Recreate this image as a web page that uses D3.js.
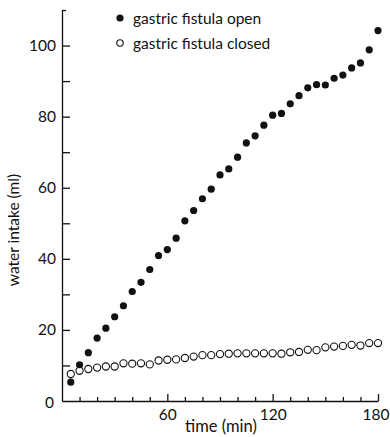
<!DOCTYPE html>
<html>
<head>
<meta charset="utf-8">
<script src="https://cdn.jsdelivr.net/npm/d3@7"></script>
<style>
  body { margin: 0; background: #fff; }
  text { font-family: Lato, "Open Sans", sans-serif; fill: #111; }
</style>
</head>
<body>
<script>
// time points (min), one sample every 5 min
const times = d3.range(5, 181, 5);

// cumulative water intake (ml)
const fistulaOpen = [5.3, 10.2, 13.6, 17.7, 20.5, 23.7, 26.8, 30.8, 33.4, 37.0,
    40.9, 42.6, 45.8, 50.7, 53.6, 56.9, 59.6, 63.6, 65.3, 68.6,
    72.6, 74.6, 77.6, 80.4, 80.9, 83.6, 85.9, 88.1, 89.0, 88.9,
    90.8, 91.7, 93.7, 95.1, 98.8, 104.2];
const fistulaClosed = [7.6, 8.5, 9.0, 9.4, 9.7, 9.7, 10.6, 10.5, 10.6, 10.3,
    11.4, 11.6, 11.7, 12.1, 12.5, 12.9, 12.9, 13.2, 13.3, 13.4,
    13.4, 13.4, 13.4, 13.4, 13.3, 13.7, 13.8, 14.4, 14.3, 15.1,
    15.3, 15.5, 15.8, 15.6, 16.3, 16.3];

const legendLabels = ["gastric fistula open", "gastric fistula closed"];
const xTickLabels = [60, 120, 180];
const yTickLabels = [0, 20, 40, 60, 80, 100];

const canvWidth = 390, canvHeight = 437;
const margin = {top: 10, right: 12, bottom: 36, left: 62};
const width = canvWidth - margin.left - margin.right;
const height = canvHeight - margin.top - margin.bottom;

const svg = d3.select("body").append("svg")
    .attr("width", canvWidth)
    .attr("height", canvHeight);

const g = svg.append("g")
    .attr("transform", `translate(${margin.left},${margin.top})`);

const xScale = d3.scaleLinear().domain([0, 180]).range([0, 316]);
const yScale = d3.scaleLinear().domain([0, 110]).range([height, 0]);

// x axis, ticks pointing inward, every 10 min
const xAxis = d3.axisBottom(xScale)
    .tickValues(d3.range(10, 181, 10))
    .tickSizeInner(-4)
    .tickSizeOuter(0)
    .tickPadding(8)
    .tickFormat(d => xTickLabels.includes(d) ? d : "");
const gx = g.append("g")
    .attr("transform", `translate(0,${height})`)
    .call(xAxis);
gx.selectAll(".tick line")
    .filter(d => xTickLabels.includes(d))
    .attr("y2", -7);

// y axis, ticks pointing inward, every 10 ml
const yAxis = d3.axisLeft(yScale)
    .tickValues(d3.range(0, 111, 10))
    .tickSizeInner(-8)
    .tickSizeOuter(0)
    .tickPadding(6)
    .tickFormat(d => yTickLabels.includes(d) ? d : "");
const gy = g.append("g").call(yAxis);
gy.selectAll(".tick line")
    .filter(d => d === 110)
    .attr("x2", 4);
gy.selectAll(".tick line").filter(d => d === 0).remove();

[gx, gy].forEach(a => {
    a.selectAll("path, line").attr("stroke", "#111").attr("stroke-width", 1.3);
    a.selectAll("text").attr("font-size", "15.5px").attr("fill", "#111")
        .attr("font-family", "Lato, sans-serif");
});
// keep the last x label inside the canvas
gx.selectAll(".tick text").filter(d => d === 180)
    .attr("text-anchor", "end").attr("dx", 11);
gy.selectAll(".tick text").filter(d => d === 0)
    .attr("dy", "0.45em").attr("dx", -2);

// axis titles
g.append("text")
    .attr("x", 159)
    .attr("y", height + 31)
    .attr("font-size", "16.5px")
    .style("text-anchor", "middle")
    .text("time (min)");

g.append("text")
    .attr("transform", "rotate(-90)")
    .attr("x", -220)
    .attr("y", -43)
    .attr("font-size", "15.5px")
    .style("text-anchor", "middle")
    .text("water intake (ml)");

// data points
const r = 3.6;
g.selectAll("circle.closed")
    .data(times)
    .enter().append("circle")
    .attr("class", "closed")
    .attr("cx", (d, i) => xScale(d))
    .attr("cy", (d, i) => yScale(fistulaClosed[i]))
    .attr("r", r)
    .attr("fill", "#fff")
    .attr("stroke", "#111")
    .attr("stroke-width", 1.1);

g.selectAll("circle.open")
    .data(times)
    .enter().append("circle")
    .attr("class", "open")
    .attr("cx", (d, i) => xScale(d))
    .attr("cy", (d, i) => yScale(fistulaOpen[i]))
    .attr("r", r)
    .attr("fill", "#111");

// legend
const legend = svg.append("g").attr("transform", "translate(120,18)");
legendLabels.forEach((label, i) => {
    const row = legend.append("g").attr("transform", `translate(0,${i * 25})`);
    row.append("circle")
        .attr("r", i === 0 ? 3.6 : 3.2)
        .attr("fill", i === 0 ? "#111" : "#fff")
        .attr("stroke", "#111")
        .attr("stroke-width", i === 0 ? 0 : 1.1);
    row.append("text")
        .attr("x", 13)
        .attr("y", 5.5)
        .attr("font-size", "15.5px")
        .text(label);
});
</script>
</body>
</html>
